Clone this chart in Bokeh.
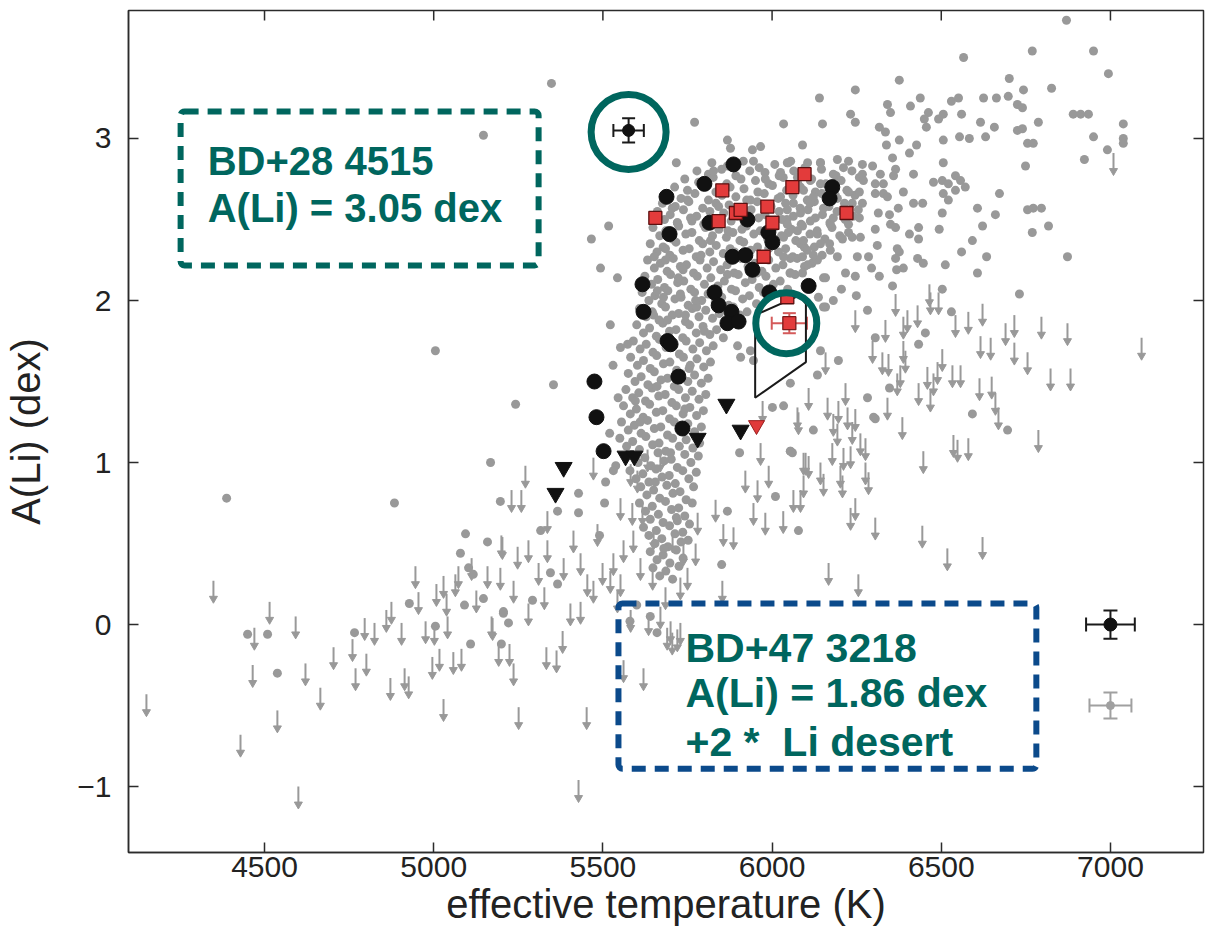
import math
from bokeh.plotting import figure
from bokeh.models import (ColumnDataSource, Range1d, BoxAnnotation, Label,
                          Whisker, TeeHead, FixedTicker)
from bokeh.embed import file_html
from bokeh.resources import INLINE

# ---------------- data ----------------
x_ticks = [4500, 5000, 5500, 6000, 6500, 7000]
y_ticks = [-1, 0, 1, 2, 3]
X_MIN, X_MAX = 4098, 7275
Y_MIN, Y_MAX = -1.407, 3.79

# solar twins / comparison stars
black_T = [5886, 5800, 5688, 5697, 5815, 5927, 5989, 6001, 5883, 5921, 5942, 6178, 6170, 5617,
           5830, 5992, 6108, 5620, 5842, 5880, 5868, 5901, 5691, 5700, 5723, 5475, 5481, 5502, 5735]
black_A = [2.84, 2.72, 2.64, 2.41, 2.48, 2.50, 2.42, 2.36, 2.27, 2.28, 2.19, 2.70, 2.63, 2.10,
           2.05, 2.05, 2.09, 1.93, 1.97, 1.93, 1.86, 1.87, 1.75, 1.73, 1.53, 1.50, 1.28, 1.07, 1.21]
tri_T = [5865, 5907, 5780, 5567, 5593, 5384, 5360]
tri_A = [1.36, 1.20, 1.15, 1.04, 1.04, 0.97, 0.81]
red_tri_T = [5954]
red_tri_A = [1.23]
red_sq_T = [5655, 5853, 5842, 5893, 5907, 5986, 6001, 6060, 6096, 6220, 5975, 6045]
red_sq_A = [2.51, 2.68, 2.49, 2.54, 2.56, 2.58, 2.48, 2.70, 2.78, 2.54, 2.27, 2.02]

# highlighted stars with error bars
hl_T = [5576, 6051]
hl_A = [3.05, 1.86]
hl_eT = [45, 52]
hl_eA = [0.075, 0.062]
ring_T = [5576, 6042]
ring_A = [3.04, 1.86]

# typical error bars (legend, right)
leg_T = [7000, 7000]
leg_A = [0.0, -0.50]
leg_eT = [72, 62]
leg_eA = [0.087, 0.080]

# Li desert region
desert_T = [5950, 5950, 6080, 6100, 6100]
desert_A = [1.40, 1.91, 2.03, 1.98, 1.62]

# gray detections: main cloud
gray_cloud = [
    (5822, 2.85), (5868, 2.83), (5915, 2.86), (5962, 2.82), (6008, 2.84), (6055, 2.86), (6097, 2.82), (6143, 2.85),
    (5778, 2.80), (5812, 2.78), (5851, 2.81), (5893, 2.77), (5934, 2.80), (5979, 2.79), (6021, 2.77), (6064, 2.80),
    (6102, 2.78), (6146, 2.81), (6189, 2.77), (6236, 2.80),
    (5742, 2.75), (5783, 2.73), (5826, 2.76), (5866, 2.72), (5908, 2.75), (5951, 2.74), (5990, 2.72), (6033, 2.76),
    (6075, 2.73), (6117, 2.75), (6159, 2.72), (6204, 2.74), (6258, 2.76),
    (5712, 2.70), (5750, 2.68), (5793, 2.71), (5834, 2.67), (5876, 2.70), (5917, 2.69), (5958, 2.67), (6001, 2.71),
    (6043, 2.68), (6084, 2.70), (6128, 2.67), (6172, 2.70), (6221, 2.68),
    (5693, 2.65), (5731, 2.63), (5772, 2.66), (5812, 2.62), (5852, 2.65), (5893, 2.64), (5936, 2.62), (5977, 2.66),
    (6018, 2.63), (6062, 2.65), (6104, 2.62), (6147, 2.66), (6193, 2.63), (6245, 2.65),
    (5676, 2.60), (5714, 2.58), (5754, 2.61), (5795, 2.57), (5834, 2.60), (5873, 2.59), (5915, 2.57), (5956, 2.61),
    (5997, 2.58), (6040, 2.60), (6083, 2.57), (6125, 2.61), (6168, 2.58), (6214, 2.60),
    (5661, 2.55), (5699, 2.53), (5738, 2.56), (5777, 2.52), (5816, 2.55), (5857, 2.54), (5897, 2.52), (5938, 2.56),
    (5979, 2.53), (6021, 2.55), (6063, 2.52), (6106, 2.56), (6149, 2.53), (6192, 2.55), (6239, 2.52),
    (5682, 2.50), (5720, 2.48), (5759, 2.51), (5798, 2.47), (5839, 2.50), (5879, 2.49), (5920, 2.47), (5960, 2.51),
    (6001, 2.48), (6044, 2.50), (6086, 2.47), (6128, 2.51), (6171, 2.48), (6216, 2.50),
    (5648, 2.45), (5686, 2.43), (5724, 2.46), (5763, 2.42), (5803, 2.45), (5843, 2.44), (5884, 2.42), (5924, 2.46),
    (5965, 2.43), (6006, 2.45), (6048, 2.42), (6090, 2.46), (6133, 2.43), (6177, 2.45), (6226, 2.42),
    (5668, 2.40), (5706, 2.38), (5745, 2.41), (5785, 2.37), (5824, 2.40), (5865, 2.39), (5905, 2.37), (5946, 2.41),
    (5987, 2.38), (6028, 2.40), (6070, 2.37), (6112, 2.41), (6156, 2.38), (6200, 2.40),
    (5640, 2.35), (5678, 2.33), (5716, 2.36), (5755, 2.32), (5795, 2.35), (5835, 2.34), (5876, 2.32), (5916, 2.36),
    (5957, 2.33), (5998, 2.35), (6040, 2.32), (6082, 2.36), (6125, 2.33), (6170, 2.35),
    (5660, 2.30), (5698, 2.28), (5737, 2.31), (5776, 2.27), (5816, 2.30), (5856, 2.29), (5896, 2.27), (5937, 2.31),
    (5978, 2.28), (6019, 2.30), (6061, 2.27), (6104, 2.31), (6148, 2.28),
    (5632, 2.25), (5670, 2.23), (5708, 2.26), (5747, 2.22), (5787, 2.25), (5827, 2.24), (5867, 2.22), (5908, 2.26),
    (5949, 2.23), (5990, 2.25), (6032, 2.22), (6074, 2.26), (6118, 2.23),
    (5652, 2.20), (5690, 2.18), (5729, 2.21), (5768, 2.17), (5808, 2.20), (5848, 2.19), (5888, 2.17), (5929, 2.21),
    (5970, 2.18), (6011, 2.20), (6053, 2.17), (6096, 2.21),
    (5624, 2.15), (5662, 2.13), (5700, 2.16), (5739, 2.12), (5779, 2.15), (5819, 2.14), (5859, 2.12), (5900, 2.16),
    (5941, 2.13), (5982, 2.15), (6024, 2.12), (6068, 2.16),
    (5644, 2.10), (5682, 2.08), (5721, 2.11), (5760, 2.07), (5800, 2.10), (5840, 2.09), (5880, 2.07), (5921, 2.11),
    (5962, 2.08), (6004, 2.10), (6046, 2.07),
    (5616, 2.05), (5654, 2.03), (5692, 2.06), (5731, 2.02), (5771, 2.05), (5811, 2.04), (5851, 2.02), (5892, 2.06),
    (5933, 2.03), (5975, 2.05),
    (5636, 2.00), (5674, 1.98), (5713, 2.01), (5752, 1.97), (5792, 2.00), (5832, 1.99), (5872, 1.97), (5913, 2.01),
    (5954, 1.98),
    (5608, 1.95), (5646, 1.93), (5685, 1.96), (5724, 1.92), (5764, 1.95), (5804, 1.94), (5844, 1.92), (5885, 1.96),
    (5926, 1.93),
    (5628, 1.90), (5666, 1.88), (5705, 1.91), (5744, 1.87), (5784, 1.90), (5824, 1.89), (5864, 1.87), (5905, 1.91),
    (5600, 1.85), (5638, 1.83), (5677, 1.86), (5716, 1.82), (5756, 1.85), (5796, 1.84), (5836, 1.82), (5877, 1.86),
    (5620, 1.80), (5658, 1.78), (5697, 1.81), (5736, 1.77), (5776, 1.80), (5816, 1.79), (5856, 1.77),
    (5705, 2.57), (5763, 2.49), (5842, 2.58), (5911, 2.44), (5990, 2.32), (6057, 2.44), (6112, 2.60), (5790, 2.28),
    (5868, 2.16), (5955, 2.17), (5737, 2.19), (5698, 2.39), (5818, 2.37), (5889, 2.30), (6030, 2.50), (6095, 2.33),
    (5652, 2.27), (5777, 1.96), (5870, 2.43), (5925, 2.62),
]

# gray detections: cool band running down to low A(Li)
gray_band = [
    (5590, 1.75), (5628, 1.73), (5667, 1.76), (5706, 1.72), (5746, 1.75), (5786, 1.74), (5826, 1.72),
    (5610, 1.70), (5648, 1.68), (5687, 1.71), (5726, 1.67), (5766, 1.70), (5806, 1.69),
    (5582, 1.65), (5620, 1.63), (5659, 1.66), (5698, 1.62), (5738, 1.65), (5778, 1.64), (5818, 1.62),
    (5602, 1.60), (5640, 1.58), (5679, 1.61), (5718, 1.57), (5758, 1.60), (5798, 1.59),
    (5575, 1.55), (5613, 1.53), (5652, 1.56), (5691, 1.52), (5731, 1.55), (5771, 1.54), (5811, 1.52),
    (5595, 1.50), (5633, 1.48), (5672, 1.51), (5711, 1.47), (5751, 1.50), (5791, 1.49),
    (5568, 1.45), (5606, 1.43), (5645, 1.46), (5684, 1.42), (5724, 1.45), (5764, 1.44), (5804, 1.42),
    (5588, 1.40), (5626, 1.38), (5665, 1.41), (5704, 1.37), (5744, 1.40), (5784, 1.39),
    (5561, 1.35), (5599, 1.33), (5638, 1.36), (5677, 1.32), (5717, 1.35), (5757, 1.34), (5797, 1.32),
    (5581, 1.30), (5619, 1.28), (5658, 1.31), (5697, 1.27), (5737, 1.30), (5777, 1.29),
    (5555, 1.25), (5593, 1.23), (5632, 1.26), (5671, 1.22), (5711, 1.25), (5751, 1.24), (5791, 1.22),
    (5575, 1.20), (5613, 1.18), (5652, 1.21), (5691, 1.17), (5731, 1.20), (5771, 1.19),
    (5550, 1.15), (5588, 1.13), (5627, 1.16), (5666, 1.12), (5706, 1.15), (5746, 1.14), (5786, 1.12),
    (5570, 1.10), (5608, 1.08), (5647, 1.11), (5686, 1.07), (5726, 1.10), (5766, 1.09),
    (5586, 1.05), (5624, 1.03), (5663, 1.06), (5702, 1.02), (5742, 1.05), (5782, 1.04),
    (5604, 1.00), (5642, 0.98), (5681, 1.01), (5720, 0.97), (5760, 1.00),
    (5580, 0.95), (5618, 0.93), (5657, 0.96), (5696, 0.92), (5736, 0.95), (5776, 0.94),
    (5598, 0.90), (5636, 0.88), (5675, 0.91), (5714, 0.87), (5754, 0.90),
    (5612, 0.85), (5650, 0.83), (5689, 0.86), (5728, 0.82), (5768, 0.85),
    (5630, 0.80), (5668, 0.78), (5707, 0.81), (5746, 0.77),
    (5608, 0.75), (5646, 0.73), (5685, 0.76), (5724, 0.72), (5764, 0.75),
    (5626, 0.70), (5664, 0.68), (5703, 0.71), (5742, 0.67),
    (5640, 0.65), (5678, 0.63), (5717, 0.66), (5756, 0.62),
    (5620, 0.60), (5658, 0.58), (5697, 0.61), (5736, 0.57),
    (5636, 0.55), (5674, 0.53), (5713, 0.56), (5752, 0.52),
    (5654, 0.50), (5692, 0.48), (5731, 0.51),
    (5640, 0.45), (5678, 0.43), (5717, 0.46),
    (5660, 0.40), (5698, 0.38), (5737, 0.41),
    (5648, 0.35), (5686, 0.33), (5725, 0.36),
    (5668, 0.30), (5706, 0.28),
    (5600, 0.12), (5640, 0.05), (5660, -0.05), (5580, 0.02),
    (5530, 1.60), (5545, 1.40), (5520, 1.18), (5538, 0.98), (5505, 0.75), (5490, 0.55),
    (5705, 1.73), (5660, 1.47), (5742, 1.33), (5610, 1.25), (5700, 1.06), (5655, 0.88), (5720, 0.64),
    (5680, 0.47), (5755, 1.58), (5800, 1.81),
]

# gray detections: hot stars
gray_hot = [
    (6870, 3.73), (6769, 3.54), (6950, 3.54), (6566, 3.50), (6994, 3.40), (6376, 3.36), (6701, 3.37), (6246, 3.30),
    (6743, 3.30), (6826, 3.31), (6140, 3.25), (6438, 3.25), (6530, 3.23), (6551, 3.25), (6625, 3.25), (6663, 3.25),
    (6698, 3.26), (6725, 3.21), (6740, 3.19), (6341, 3.21), (6409, 3.20), (6350, 3.16), (6232, 3.15), (6246, 3.10),
    (6149, 3.09), (6034, 3.09), (6462, 3.16), (6450, 3.12), (6456, 3.07), (6492, 3.12), (6506, 3.15), (6560, 3.15),
    (6616, 3.10), (6657, 3.07), (6890, 3.15), (6912, 3.15), (6935, 3.15), (7038, 3.09), (7038, 3.00), (7038, 2.97),
    (6950, 3.01), (6991, 2.93), (6923, 2.87), (6317, 3.07), (6335, 3.04), (6376, 2.99), (6338, 2.96), (6427, 2.96),
    (6406, 2.91), (6506, 2.99), (6554, 3.01), (6583, 3.00), (6631, 3.01), (6725, 3.05), (6740, 3.06), (6787, 3.10),
    (6755, 2.97), (6772, 2.97), (6749, 2.83), (6090, 2.96), (6356, 2.88), (6365, 2.81), (6506, 2.85), (6418, 2.78),
    (6359, 2.77), (6267, 2.84), (6297, 2.83), (6226, 2.86), (6193, 2.87), (6211, 2.82), (6143, 2.85), (6105, 2.85),
    (6048, 2.85), (6181, 2.78), (6267, 2.78), (6320, 2.78), (6270, 2.74), (6305, 2.72), (6329, 2.72), (6477, 2.73),
    (6503, 2.74), (6521, 2.72), (6542, 2.77), (6557, 2.74), (6571, 2.70), (6542, 2.68), (6506, 2.66), (6521, 2.62),
    (6388, 2.67), (6305, 2.66), (6329, 2.66), (6341, 2.64), (6258, 2.67), (6226, 2.67), (6267, 2.60), (6418, 2.60),
    (6445, 2.60), (6672, 2.66), (6373, 2.57), (6314, 2.54), (6347, 2.53), (6503, 2.54), (6607, 2.57), (6660, 2.53),
    (6755, 2.56), (6772, 2.57), (6796, 2.57), (6350, 2.47), (6365, 2.45), (6305, 2.44), (6494, 2.44), (6622, 2.46),
    (6817, 2.46), (6433, 2.45), (6406, 2.41), (6433, 2.38), (6769, 2.42), (6592, 2.37), (6311, 2.34), (6370, 2.32),
    (6376, 2.30), (6560, 2.30), (6634, 2.27), (6252, 2.27), (6285, 2.27), (6365, 2.26), (6430, 2.26), (6447, 2.23),
    (6873, 2.27), (6512, 2.22), (6294, 2.20), (6388, 2.20), (6368, 2.19), (6217, 2.17), (6246, 2.15), (6317, 2.15),
    (6607, 2.17), (6356, 2.09), (6503, 2.07), (6731, 2.04), (6249, 2.03), (6205, 2.07), (6181, 2.00), (6158, 1.96),
    (6137, 2.02), (6193, 2.27), (6172, 2.31), (6143, 2.35), (6208, 2.38), (6237, 2.39), (6261, 2.39), (6226, 2.47),
    (6258, 2.51), (6134, 2.25), (6152, 2.14), (6090, 2.17), (6105, 2.22), (6122, 2.28), (6054, 2.26), (6084, 2.35),
    (6090, 2.27), (6054, 2.17), (6034, 2.27), (6045, 2.85), (6075, 2.76), (6113, 2.74), (6143, 2.72), (6093, 2.68),
    (6122, 2.64), (6152, 2.57), (6063, 2.60), (6045, 2.56), (6084, 2.54), (6113, 2.49), (6172, 2.47), (6045, 2.47),
    (6075, 2.43), (6134, 2.41), (6034, 2.39), (6093, 2.37), (6025, 2.64), (6187, 2.65), (6181, 2.51), (6237, 2.60),
    (6255, 2.56), (6158, 2.14),
    (6282, 1.94), (6152, 1.96), (6530, 1.93), (6305, 1.77), (6453, 1.80), (6433, 1.73), (6134, 1.54), (6347, 1.46),
    (6305, 1.27), (6592, 1.30), (6696, 1.20), (6060, 1.06), (6078, 0.58), (6054, 1.49),
    (6143, 1.69), (6196, 1.63), (6282, 1.40), (6300, 1.28), (6122, 1.20), (6054, 1.07), (6001, 1.34), (6034, 1.35),
    (5898, 1.72), (5907, 1.65), (5936, 1.69), (5945, 1.63),
]

# gray detections: cool stars and outliers
gray_cool = [
    (4388, 0.78), (4884, 0.75), (5168, 1.00), (5197, 0.76), (5094, 0.56), (5159, 0.51), (5079, 0.44), (4450, -0.06),
    (4509, -0.06), (4538, -0.30), (4766, -0.05), (4928, 0.13), (5109, -0.12), (5147, 0.16), (5091, 0.12),
    (5005, -0.01), (5206, 0.08), (5200, -0.12), (5103, 0.35), (5117, 0.31),
    (5316, 0.58), (5366, 0.70), (5428, 0.81), (5428, 0.69), (5206, 0.07), (5221, 0.01), (5292, 0.15), (5345, 0.32),
    (5366, 0.25), (5531, 0.95), (5508, 0.88), (5851, 0.37), (5868, 0.70), (5904, 1.06), (6054, 1.07), (6010, 0.79),
    (5348, 3.34), (5147, 3.02), (5771, 3.10), (5868, 2.99), (5877, 2.94), (5942, 2.93), (5966, 2.95), (5717, 2.85),
    (5827, 2.80), (5945, 2.86), (6025, 2.79), (5980, 2.75), (5517, 2.46), (5466, 2.38), (5493, 2.20), (5543, 2.14),
    (5750, 2.62), (5720, 2.48), (5685, 2.32), (5685, 2.25), (5706, 2.41), (5522, 1.85), (5005, 1.69), (5573, 1.73),
    (5552, 1.71), (5354, 1.48), (5242, 1.36), (5596, 1.38), (5661, 2.06), (5679, 2.02), (5723, 2.14), (5729, 2.04),
    (5650, 1.91), (5691, 1.88), (5744, 1.91), (5774, 2.00),
]

# gray upper limits (arrows)
gray_limits = [
    (4151, -0.43), (4349, 0.27), (4515, 0.14), (4470, -0.02), (4592, 0.05), (4465, -0.25), (4621, -0.24),
    (4538, -0.53), (4429, -0.68), (4600, -1.00), (4665, -0.39), (4704, -0.14), (4760, -0.09), (4769, -0.27),
    (4801, -0.18), (4796, 0.04), (4825, 0.01), (4872, -0.33), (4905, 0.01), (4860, 0.09), (4875, 0.14),
    (4914, -0.27), (4926, -0.32), (4946, 0.36), (4955, 0.20), (4976, 0.02), (5002, 0.01), (4996, -0.20),
    (5017, -0.15), (5029, -0.46), (5008, 0.25), (5029, 0.30), (5038, 0.19), (5041, 0.05), (5058, -0.17),
    (5082, -0.15), (5064, 0.31), (5073, 0.36), (5112, 0.41), (5126, 0.21), (5159, 0.36), (5171, 0.05),
    (5192, -0.12), (5200, 0.55), (5197, 0.35),
    (5271, 0.98), (5230, 0.83), (5259, 0.83), (5336, 0.70), (5203, 0.54), (5248, 0.48), (5280, 0.52), (5336, 0.52),
    (5384, 0.41), (5236, 0.27), (5310, 0.38), (5327, 0.23), (5280, 0.13), (5381, -0.04), (5333, -0.14),
    (5363, -0.16), (5236, -0.24), (5224, -0.12), (5174, 0.04), (5251, -0.51), (5452, -0.51), (5428, -0.96),
    (5561, -0.22), (5620, -0.27), (5404, 0.13), (5434, 0.14), (5472, 0.27), (5522, 0.33), (5543, 0.21),
    (5582, 0.09), (5635, 0.07), (5670, 0.11), (5700, 0.02), (5729, 0.01), (5685, 0.23), (5729, 0.29),
    (5750, 0.35), (5774, 0.50), (5780, 0.69), (5833, 0.77), (5853, 0.27), (5856, 0.62), (5886, 0.60),
    (5921, 0.95), (5957, 0.89), (5990, 0.98), (5945, 0.75), (5980, 0.69), (6033, 0.70), (6063, 0.83),
    (6099, 1.06), (5472, 1.03), (5582, 0.99), (5602, 0.95), (5632, 1.08), (5670, 1.08), (5552, 0.78),
    (5587, 0.75), (5617, 0.75), (5650, 0.60), (5590, 0.58), (5561, 0.52), (5531, 0.44), (5499, 0.38),
    (5552, 0.31), (5611, 0.41), (5647, 0.35), (5706, 0.58), (5738, 0.50), (5434, 0.44), (5454, 0.31),
    (5484, 0.62), (5413, 0.58), (5690, -0.02), (5705, -0.05), (5720, -0.03),
    (6468, 2.05), (6492, 2.05), (6430, 1.97), (6400, 1.94), (6388, 1.90), (6246, 1.94), (6335, 1.88),
    (6542, 1.91), (6580, 1.93), (6622, 1.98), (6690, 1.86), (6716, 1.91), (6796, 1.90), (6873, 1.86),
    (7092, 1.77), (6616, 1.78), (6646, 1.77), (6716, 1.74), (6755, 1.68), (6823, 1.58), (6882, 1.58),
    (6297, 1.75), (6326, 1.68), (6344, 1.67), (6388, 1.75), (6394, 1.69), (6503, 1.70), (6158, 1.68),
    (6379, 1.60), (6370, 1.55), (6459, 1.59), (6489, 1.62), (6477, 1.55), (6533, 1.60), (6557, 1.60),
    (6433, 1.49), (6468, 1.45), (6613, 1.52), (6649, 1.53), (6660, 1.43), (6669, 1.34), (6108, 1.46),
    (6217, 1.49), (6164, 1.40), (6196, 1.38), (6223, 1.34), (6246, 1.33), (6075, 1.34), (6181, 1.30),
    (6193, 1.24), (6237, 1.25), (6261, 1.18), (6276, 1.15), (6178, 1.12), (6211, 1.09), (6232, 1.10),
    (6093, 1.06), (6108, 1.04), (6143, 1.00), (6202, 0.98), (6276, 1.00), (6285, 0.94), (6093, 0.92),
    (6152, 0.93), (6208, 0.92), (6084, 0.83), (6246, 0.78), (6232, 0.72), (6305, 0.66), (6385, 1.28),
    (6341, 1.40), (6536, 1.17), (6548, 1.14), (6580, 1.15), (6447, 1.07), (6787, 1.20), (6444, 0.61),
    (6622, 0.54), (6518, 0.47), (6167, 0.38), (6255, 0.31), (6465, 2.10), (6365, 2.04), (7009, 2.91),
    (5972, 1.38), (5966, 1.12), (6078, 1.31),
]

# annotation texts
box1_lines = ["BD+28 4515", "A(Li) = 3.05 dex"]
box2_lines = ["BD+47 3218", "A(Li) = 1.86 dex", "+2 *\u00a0 Li desert"]

# ---------------- styling constants ----------------
GRAY = "#999999"
AX = "#2b2b2b"
TEAL = "#00665e"
BLUE = "#0b4a8b"
FONT = "Liberation Sans"
LIM_LEN = 0.11

p = figure(width=1205, height=936, x_range=Range1d(X_MIN, X_MAX), y_range=Range1d(Y_MIN, Y_MAX),
           output_backend="svg", toolbar_location=None,
           min_border_left=128, min_border_right=2, min_border_top=10, min_border_bottom=84,
           background_fill_color="white", border_fill_color="white")
p.grid.visible = False
p.outline_line_color = AX
p.outline_line_width = 1.5

p.xaxis.ticker = FixedTicker(ticks=x_ticks)
p.yaxis.ticker = FixedTicker(ticks=y_ticks)
p.yaxis.major_label_overrides = {-1: "\u22121"}
for ax in (p.xaxis[0], p.yaxis[0]):
    ax.major_tick_in = 10
    ax.major_tick_out = 0
    ax.minor_tick_line_color = None
    ax.axis_line_color = AX
    ax.axis_line_width = 1.5
    ax.major_tick_line_color = AX
    ax.major_tick_line_width = 1.5
    ax.major_label_text_font = FONT
    ax.major_label_text_font_size = "30px"
    ax.major_label_text_color = "#222222"
    ax.axis_label_text_font = FONT
    ax.axis_label_text_font_size = "40px"
    ax.axis_label_text_font_style = "normal"
    ax.axis_label_text_color = "#222222"
p.xaxis.axis_label = "effective temperature (K)"
p.yaxis.axis_label = "A(Li) (dex)"
p.xaxis.major_label_standoff = 4
p.xaxis.axis_label_standoff = 2
p.yaxis.major_label_standoff = 17
p.yaxis.axis_label_standoff = 26

# inward ticks on the top and right frame edges (half of each dash is clipped by the frame)
p.scatter(x=x_ticks, y=[Y_MAX] * len(x_ticks), marker="dash", size=20, angle=math.pi / 2,
          line_color=AX, line_width=1.5)
p.scatter(x=[X_MAX] * len(y_ticks), y=y_ticks, marker="dash", size=20,
          line_color=AX, line_width=1.5)

# gray upper limits
lim_T = [t for t, a in gray_limits]
lim_A = [a for t, a in gray_limits]
src_lim = ColumnDataSource(dict(x=lim_T, y=lim_A, y1=[a - LIM_LEN for a in lim_A]))
p.segment(x0="x", y0="y", x1="x", y1="y1", source=src_lim, line_color=GRAY, line_width=2)
p.scatter(x="x", y="y1", source=src_lim, marker="inverted_triangle", size=8,
          fill_color=GRAY, line_color=GRAY)

# gray detections
all_gray = gray_cloud + gray_band + gray_hot + gray_cool
src_g = ColumnDataSource(dict(x=[t for t, a in all_gray], y=[a for t, a in all_gray]))
p.scatter(x="x", y="y", source=src_g, marker="circle", size=9, fill_color=GRAY, line_color=None)

# Li desert
p.patch(desert_T, desert_A, fill_color=None, line_color="#1a1a1a", line_width=2)

# black circles and triangles
p.scatter(black_T, black_A, marker="circle", size=15, fill_color="#111111", line_color="#111111")
p.scatter(tri_T, tri_A, marker="inverted_triangle", size=17, fill_color="#111111", line_color="#111111")
p.scatter(red_tri_T, red_tri_A, marker="inverted_triangle", size=16, fill_color="#e03a3a", line_color="#9a1e1e")
p.scatter(red_sq_T, red_sq_A, marker="square", size=13, fill_color="#e33b3b", line_color="#5a1010", line_width=1.3)

# typical error bars
src_leg = ColumnDataSource(dict(x=leg_T, y=leg_A, xl=[t - e for t, e in zip(leg_T, leg_eT)],
                                xu=[t + e for t, e in zip(leg_T, leg_eT)],
                                yl=[a - e for a, e in zip(leg_A, leg_eA)],
                                yu=[a + e for a, e in zip(leg_A, leg_eA)],
                                c=["#1a1a1a", "#a0a0a0"]))
for dim, base, lo, up in (("width", "y", "xl", "xu"), ("height", "x", "yl", "yu")):
    p.add_layout(Whisker(source=src_leg, dimension=dim, base=base, lower=lo, upper=up,
                         line_color={"field": "c"}, line_width=2,
                         lower_head=TeeHead(size=14, line_color={"field": "c"}, line_width=2),
                         upper_head=TeeHead(size=14, line_color={"field": "c"}, line_width=2)))
p.scatter(x=leg_T[:1], y=leg_A[:1], marker="circle", size=13, fill_color="#111111", line_color="#111111")
p.scatter(x=leg_T[1:], y=leg_A[1:], marker="circle", size=8, fill_color="#a0a0a0", line_color="#a0a0a0")

# highlighted stars with error bars
src_hl = ColumnDataSource(dict(x=hl_T, y=hl_A, xl=[t - e for t, e in zip(hl_T, hl_eT)],
                               xu=[t + e for t, e in zip(hl_T, hl_eT)],
                               yl=[a - e for a, e in zip(hl_A, hl_eA)],
                               yu=[a + e for a, e in zip(hl_A, hl_eA)],
                               c=["#1a1a1a", "#d45a5a"]))
for dim, base, lo, up in (("width", "y", "xl", "xu"), ("height", "x", "yl", "yu")):
    p.add_layout(Whisker(source=src_hl, dimension=dim, base=base, lower=lo, upper=up,
                         line_color={"field": "c"}, line_width=2,
                         lower_head=TeeHead(size=13, line_color={"field": "c"}, line_width=2),
                         upper_head=TeeHead(size=13, line_color={"field": "c"}, line_width=2)))
p.scatter(x=hl_T[:1], y=hl_A[:1], marker="circle", size=12, fill_color="#111111", line_color="#111111")
p.scatter(x=hl_T[1:], y=hl_A[1:], marker="square", size=13, fill_color="#e33b3b", line_color="#7a1a1a", line_width=1.3)

# highlight rings
p.scatter(x=ring_T[:1], y=ring_A[:1], marker="circle", size=75, fill_color=None, line_color=TEAL, line_width=7)
p.scatter(x=ring_T[1:], y=ring_A[1:], marker="circle", size=61, fill_color=None, line_color=TEAL, line_width=7)

# annotation boxes
p.add_layout(BoxAnnotation(left=4252, right=5310, top=3.167, bottom=2.216, fill_alpha=0,
                           line_color=TEAL, line_alpha=1.0, line_width=6, line_dash="14 9",
                           border_radius=4))
p.add_layout(BoxAnnotation(left=5546, right=6781, top=0.13, bottom=-0.89, fill_alpha=0,
                           line_color=BLUE, line_alpha=1.0, line_width=6, line_dash="14 9",
                           border_radius=4))

box1_y = [2.858, 2.568]
for t, yy in zip(box1_lines, box1_y):
    p.add_layout(Label(x=4332, y=yy, text=t, text_font=FONT, text_font_size="40px",
                       text_font_style="bold", text_color=TEAL, text_baseline="alphabetic"))
box2_y = [-0.145, -0.425, -0.725]
for t, yy in zip(box2_lines, box2_y):
    p.add_layout(Label(x=5744, y=yy, text=t, text_font=FONT, text_font_size="41px",
                       text_font_style="bold", text_color=TEAL, text_baseline="alphabetic"))

open("out.html", "w").write(file_html(p, INLINE))
